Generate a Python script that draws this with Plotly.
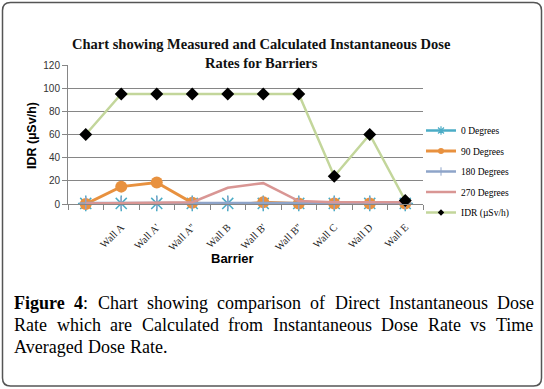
import plotly.graph_objects as go

categories = ["", "Wall A", "Wall A'", "Wall A''", "Wall B", "Wall B'", "Wall B''", "Wall C", "Wall D", "Wall E"]
deg0 = [0.5, 0.5, 0.5, 0.5, 0.5, 0.5, 0.5, 0.5, 0.5, 0.5]
deg90 = [0, 15, 18.5, 1, -1.5, 1.5, 0.5, 0.5, 0.5, 0.5]
deg180 = [0.8, 0.8, 0.8, 0.8, 0.8, 0.8, 0.8, 0.8, 0.8, 0.8]
deg270 = [0.5, 0.8, 1, 1.5, 14, 18, 2.5, 1.5, 1.5, 1.5]
idr = [60, 95, 95, 95, 95, 95, 95, 24, 60, 3]
y_ticks = [0, 20, 40, 60, 80, 100, 120]

W, H = 544, 389
L, R, T, B = 68, 121, 65, 185
PW, PH = W - L - R, H - T - B

def px(x):
    return (x - L) / PW

def py(y):
    return 1 - (y - T) / PH

xs = list(range(len(categories)))
series = [
    dict(name="0 Degrees", y=deg0, color="#4BACC6", lw=2.5, mode="lines+markers",
         marker=dict(symbol="asterisk-open", size=13, line=dict(color="#8DB4E2", width=1.5)),
         lmarker=dict(symbol="asterisk-open", size=7, line=dict(color="#8DB4E2", width=1.2))),
    dict(name="90 Degrees", y=deg90, color="#E8913F", lw=3, mode="lines+markers",
         marker=dict(symbol="circle", size=12, color="#E8913F"),
         lmarker=dict(symbol="circle", size=6, color="#E8913F")),
    dict(name="180 Degrees", y=deg180, color="#8EA4C9", lw=2.5, mode="lines+markers",
         marker=dict(symbol="cross-thin-open", size=9, line=dict(color="#8EA4C9", width=1.5)),
         lmarker=dict(symbol="cross-thin-open", size=6, line=dict(color="#8EA4C9", width=1))),
    dict(name="270 Degrees", y=deg270, color="#D99694", lw=2.5, mode="lines",
         marker=None, lmarker=None),
    dict(name="IDR (µSv/h)", y=idr, color="#C3D69B", lw=2.5, mode="lines+markers",
         marker=dict(symbol="diamond", size=10, color="black"),
         lmarker=dict(symbol="diamond", size=5, color="black")),
]

fig = go.Figure()
for s in series:
    kw = dict(marker=s["marker"]) if s["marker"] else {}
    fig.add_trace(go.Scatter(x=xs, y=s["y"], name=s["name"], mode=s["mode"], showlegend=False,
                             line=dict(color=s["color"], width=s["lw"]), cliponaxis=False, **kw))
for i, s in enumerate(series):
    kw = dict(marker=s["lmarker"]) if s["lmarker"] else {}
    fig.add_trace(go.Scatter(x=[None], y=[None], name=s["name"], mode=s["mode"], legendgroup=str(i),
                             line=dict(color=s["color"], width=s["lw"]), **kw))

fig.update_layout(
    width=W, height=H,
    margin=dict(l=L, r=R, t=T, b=B, autoexpand=False),
    paper_bgcolor="white", plot_bgcolor="white",
    showlegend=True,
    legend=dict(x=px(421), y=py(116), xanchor="left", yanchor="top",
                font=dict(family="Liberation Serif", size=9.5, color="black"),
                bgcolor="rgba(0,0,0,0)", itemwidth=30, tracegroupgap=1.5),
    xaxis=dict(range=[-0.5, len(categories) - 0.5], tickmode="array", tickvals=xs, ticktext=categories,
               tickangle=-45, ticks="", showgrid=False, zeroline=False, ticklabelstandoff=12,
               showline=True, linecolor="#868686", linewidth=1,
               tickfont=dict(family="Liberation Serif", size=10.5, color="#222"),
               minor=dict(tickmode="linear", tick0=-0.5, dtick=1, ticks="outside", ticklen=5,
                          tickcolor="#868686", showgrid=False)),
    yaxis=dict(range=[0, 120], tickvals=y_ticks, showgrid=True, gridcolor="#868686", gridwidth=1,
               zeroline=False, showline=True, linecolor="#868686", linewidth=1,
               ticks="outside", ticklen=5, tickcolor="#868686",
               tickfont=dict(family="Liberation Sans", size=10, color="#333")),
)

fig.add_annotation(text="<b>Chart showing Measured and Calculated Instantaneous Dose<br>Rates for Barriers</b>",
                   xref="paper", yref="paper", x=px(261), y=py(53), xanchor="center", yanchor="middle",
                   showarrow=False, font=dict(family="Liberation Serif", size=14.5, color="#111"))
fig.add_annotation(text="<b>IDR (µSv/h)</b>", textangle=-90,
                   xref="paper", yref="paper", x=px(32), y=py(136), xanchor="center", yanchor="middle",
                   showarrow=False, font=dict(family="Liberation Sans", size=12.5, color="black"))
fig.add_annotation(text="<b>Barrier</b>",
                   xref="paper", yref="paper", x=px(232), y=py(258), xanchor="center", yanchor="middle",
                   showarrow=False, font=dict(family="Liberation Sans", size=13, color="black"))

# caption, justified word by word using Times metrics (per 1000 em)
REG = dict(zip("abcdefghijklmnopqrstuvwxyz",
               [444, 500, 444, 500, 444, 333, 500, 500, 278, 278, 500, 278, 778, 500, 500, 500, 500, 333, 389, 278,
                500, 500, 722, 500, 500, 444]))
REG.update(dict(zip("ABCDEFGHIJKLMNOPQRSTUVWXYZ",
                    [722, 667, 667, 722, 611, 556, 722, 722, 333, 389, 722, 611, 889, 722, 722, 556, 722, 667, 556,
                     611, 722, 722, 944, 722, 722, 611])))
REG.update({":": 278, ".": 250, ",": 250, "4": 500})
BOLD = dict(REG)
BOLD.update({"F": 611, "i": 278, "g": 500, "u": 556, "r": 444, "e": 444, "4": 500})

FS = 18
caption = [
    ["<b>Figure</b>", "<b>4</b>:", "Chart", "showing", "comparison", "of", "Direct", "Instantaneous", "Dose"],
    ["Rate", "which", "are", "Calculated", "from", "Instantaneous", "Dose", "Rate", "vs", "Time"],
    ["Averaged", "Dose", "Rate."],
]

def word_width(w):
    bold = w.startswith("<b>")
    plain = w.replace("<b>", "").replace("</b>", "")
    total = 0
    for ch in plain:
        tbl = BOLD if bold and ch not in ":" else REG
        total += tbl.get(ch, 500)
    return total * FS / 1000.0

left, right = 12, 532
for i, words in enumerate(caption):
    widths = [word_width(w) for w in words]
    if i < len(caption) - 1:
        gap = (right - left - sum(widths)) / (len(words) - 1)
    else:
        gap = 0.25 * FS
    xpos = left
    for w, wd in zip(words, widths):
        fig.add_annotation(text=w, xref="paper", yref="paper", x=px(xpos), y=py(303 + 22 * i),
                           xanchor="left", yanchor="middle", showarrow=False,
                           font=dict(family="Liberation Serif", size=FS, color="black"))
        xpos += wd + gap

# outer rounded border
x0, y0, x1, y1, r = 2.5, 2.5, 541.5, 386, 8
path = (f"M {px(x0 + r)},{py(y0)} L {px(x1 - r)},{py(y0)} Q {px(x1)},{py(y0)} {px(x1)},{py(y0 + r)} "
        f"L {px(x1)},{py(y1 - r)} Q {px(x1)},{py(y1)} {px(x1 - r)},{py(y1)} "
        f"L {px(x0 + r)},{py(y1)} Q {px(x0)},{py(y1)} {px(x0)},{py(y1 - r)} "
        f"L {px(x0)},{py(y0 + r)} Q {px(x0)},{py(y0)} {px(x0 + r)},{py(y0)} Z")
fig.add_shape(type="path", path=path, xref="paper", yref="paper", line=dict(color="#555", width=1.5))

fig.write_html("out.html", config={"displayModeBar": False},
               post_script="document.body.style.margin='0px';")
